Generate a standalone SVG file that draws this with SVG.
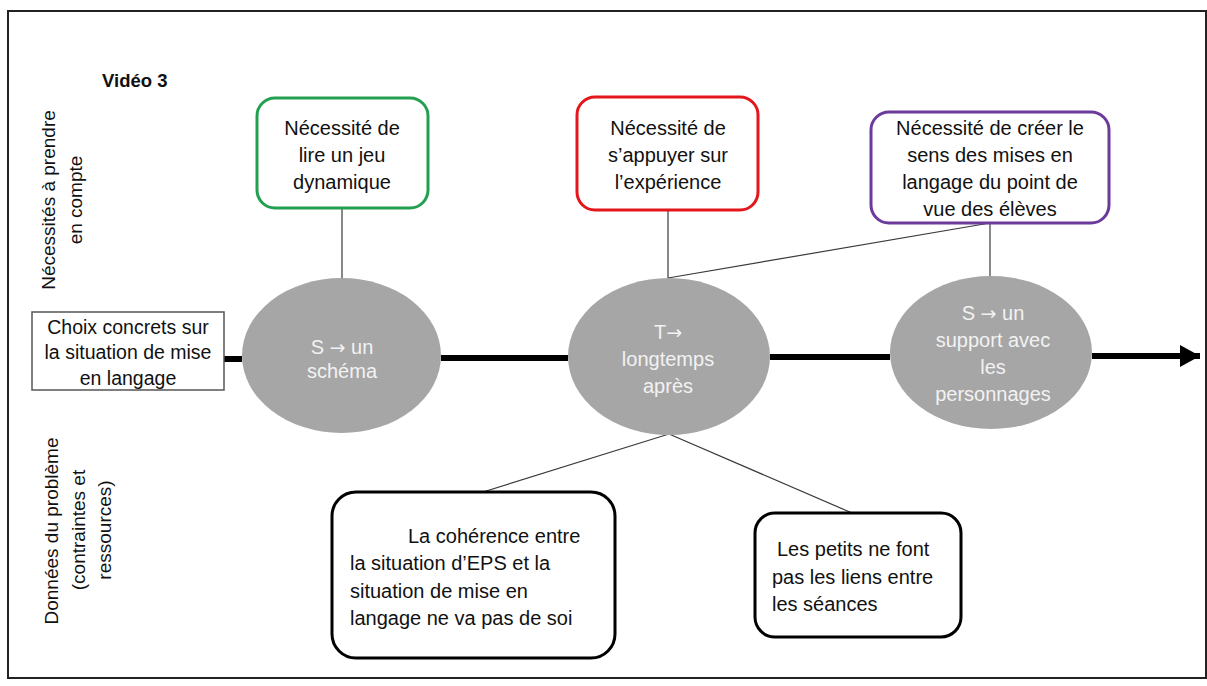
<svg xmlns="http://www.w3.org/2000/svg" width="1207" height="686" viewBox="0 0 1207 686">
<style>
text{font-family:"Liberation Sans",Arial,sans-serif;font-size:20px;fill:#111}
.c{text-anchor:middle}
.w{fill:#f2f2f2}
.lbl{font-size:19px}
.ar{font-family:"DejaVu Sans",sans-serif;font-size:19px}
.nb{fill:#fff;stroke-width:3}
.el{fill:#a6a6a6}
.thin{stroke:#3a3a3a;stroke-width:1.2;fill:none}
</style>
<defs>
<marker id="ah" markerWidth="22" markerHeight="24" refX="20" refY="11" orient="auto" markerUnits="userSpaceOnUse">
<path d="M0,0 L20,11 L0,22 Z" fill="#000"/>
</marker>
</defs>
<rect x="8" y="11" width="1198" height="667" fill="#fff" stroke="#222" stroke-width="2"/>
<text x="102" y="87" style="font-weight:bold;font-size:18.5px">Vidéo 3</text>
<g id="labels" class="lbl">
<text class="c lbl" transform="translate(55,200) rotate(-90)">Nécessités à prendre</text>
<text class="c lbl" transform="translate(82,200) rotate(-90)">en compte</text>
<text class="c lbl" transform="translate(58,531) rotate(-90)">Données du problème</text>
<text class="c lbl" transform="translate(85,530) rotate(-90)">(contraintes et</text>
<text class="c lbl" transform="translate(111,530) rotate(-90)">ressources)</text>
</g>
<g id="connectors">
<line x1="224" y1="359" x2="242" y2="359" stroke="#000" stroke-width="6"/>
<line x1="441" y1="358" x2="568" y2="358" stroke="#000" stroke-width="6"/>
<line x1="770" y1="357" x2="890" y2="357" stroke="#000" stroke-width="6"/>
<line x1="1092" y1="356" x2="1200" y2="356" stroke="#000" stroke-width="6" marker-end="url(#ah)"/>
<line class="thin" x1="342" y1="208" x2="342" y2="278"/>
<line class="thin" x1="668" y1="210" x2="668" y2="278"/>
<line class="thin" x1="990" y1="223" x2="990" y2="276"/>
<line class="thin" x1="990" y1="223" x2="668" y2="278"/>
<line class="thin" x1="669" y1="434" x2="483" y2="492"/>
<line class="thin" x1="669" y1="434" x2="852" y2="513"/>
</g>
<g id="choix">
<rect x="32" y="312" width="192" height="78" fill="#fff" stroke="#555" stroke-width="1.5"/>
<text class="c" x="128" y="334" style="font-size:19.5px">Choix concrets sur</text>
<text class="c" x="128" y="359" style="font-size:19.5px">la situation de mise</text>
<text class="c" x="128" y="385" style="font-size:19.5px">en langage</text>
</g>
<g id="n1">
<rect class="nb" x="257" y="98" width="171" height="110" rx="18" stroke="#22a050"/>
<text class="c" x="342" y="135">Nécessité de</text>
<text class="c" x="342" y="162">lire un jeu</text>
<text class="c" x="342" y="189">dynamique</text>
</g>
<g id="n2">
<rect class="nb" x="577" y="97" width="181" height="113" rx="18" stroke="#e3161b"/>
<text class="c" x="668" y="135">Nécessité de</text>
<text class="c" x="668" y="162">s’appuyer sur</text>
<text class="c" x="668" y="189">l’expérience</text>
</g>
<g id="n3">
<rect class="nb" x="871" y="112" width="238" height="111" rx="18" stroke="#6b3a9b"/>
<text class="c" x="990" y="135">Nécessité de créer le</text>
<text class="c" x="990" y="162">sens des mises en</text>
<text class="c" x="990" y="189">langage du point de</text>
<text class="c" x="990" y="216">vue des élèves</text>
</g>
<g id="e1">
<ellipse class="el" cx="341.5" cy="355.5" rx="99.5" ry="77.5"/>
<text class="c w" x="342" y="354">S <tspan class="ar">→</tspan> un</text>
<text class="c w" x="342" y="378">schéma</text>
</g>
<g id="e2">
<ellipse class="el" cx="669" cy="356.5" rx="101" ry="78.5"/>
<text class="c w" x="668" y="339">T<tspan class="ar">→</tspan></text>
<text class="c w" x="668" y="366">longtemps</text>
<text class="c w" x="668" y="393">après</text>
</g>
<g id="e3">
<ellipse class="el" cx="991" cy="352.5" rx="101" ry="76.5"/>
<text class="c w" x="993" y="320">S <tspan class="ar">→</tspan> un</text>
<text class="c w" x="993" y="347">support avec</text>
<text class="c w" x="993" y="374">les</text>
<text class="c w" x="993" y="401">personnages</text>
</g>
<g id="d1">
<rect class="nb" x="332" y="492" width="283" height="166" rx="24" stroke="#000"/>
<text x="408" y="543">La cohérence entre</text>
<text x="350" y="570">la situation d’EPS et la</text>
<text x="350" y="598">situation de mise en</text>
<text x="350" y="625">langage ne va pas de soi</text>
</g>
<g id="d2">
<rect class="nb" x="755" y="513" width="206" height="124" rx="20" stroke="#000"/>
<text x="777" y="556">Les petits ne font</text>
<text x="772" y="584">pas les liens entre</text>
<text x="772" y="611">les séances</text>
</g>
</svg>
